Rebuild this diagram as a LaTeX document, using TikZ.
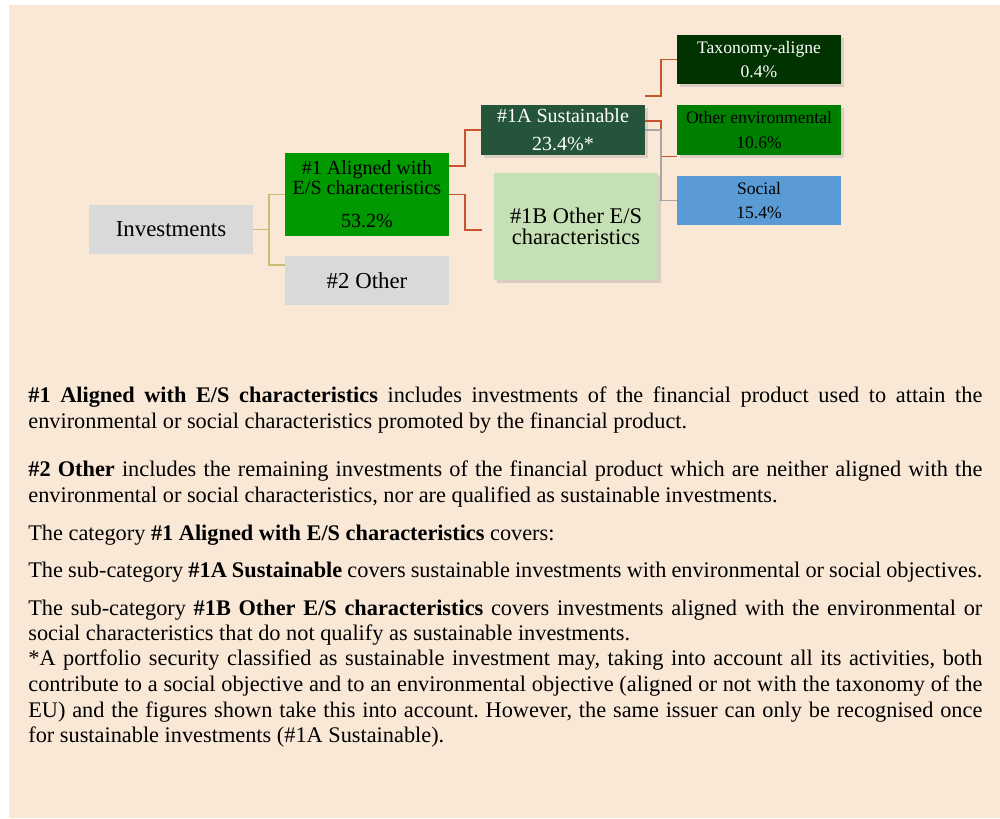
\documentclass[tikz,border=0pt]{standalone}
\usepackage{fontspec}
\setmainfont{Liberation Serif}
\usepackage{xcolor}
\usepackage{tikz}
\usetikzlibrary{shadows}
\definecolor{esgPeach}{HTML}{FAE8D7}
\definecolor{esgGray}{HTML}{D9D9D9}
\definecolor{esgGreen}{HTML}{009900}
\definecolor{esgForest}{HTML}{245439}
\definecolor{esgMint}{HTML}{C5E0B4}
\definecolor{esgNight}{HTML}{003300}
\definecolor{esgLeaf}{HTML}{008000}
\definecolor{esgSky}{HTML}{5B9BD5}
\definecolor{esgTan}{HTML}{C9BD74}
\definecolor{esgRust}{HTML}{C8532F}
\definecolor{esgSlate}{HTML}{A6A6A6}
\tikzset{
  category/.style={
    rectangle,
    inner sep=0pt,
    minimum width=3.28cm,
    minimum height=0.98cm,
    align=center,
    font=\fontsize{13}{15}\selectfont
  },
  categoryShadow/.style={
    category,
    drop shadow={shadow xshift=0.05cm,shadow yshift=-0.06cm,opacity=0.25}
  },
  leaf/.style={
    categoryShadow,
    font=\fontsize{10}{13.7}\selectfont
  },
  tanLink/.style={
    draw=esgTan,
    line width=1pt
  },
  rustLink/.style={
    draw=esgRust,
    line width=1.1pt
  },
  slateLink/.style={
    draw=esgSlate,
    line width=1pt
  },
  legend/.style={
    anchor=base west,
    inner sep=0pt,
    text width=19.08cm,
    align=justify,
    font=\fontsize{12.7}{14.6}\selectfont\frenchspacing
  }
}
\begin{document}
\begin{tikzpicture}
  \useasboundingbox (0,0) rectangle (20,-16.36);
  \fill[esgPeach] (0.18,-0.1) rectangle (20,-16.36);
  % tree of investments
  \node[category,fill=esgGray] (invest) at (3.42,-4.59) {Investments};
  \node[category,fill=esgGreen,minimum height=1.66cm,font=\fontsize{11.4}{11}\selectfont] (aligned) at (7.34,-3.89) {\#1 Aligned with\\E/S characteristics\\[8pt]53.2\%};
  \node[category,fill=esgGray] (other) at (7.34,-5.61) {\#2 Other};
  \node[categoryShadow,fill=esgForest,text=white,minimum height=1.0cm,font=\fontsize{11.4}{15.8}\selectfont] (sustain) at (11.26,-2.60) {\#1A Sustainable\\23.4\%*};
  \node[categoryShadow,fill=esgMint,minimum height=2.14cm,font=\fontsize{12.75}{12.3}\selectfont] (otherES) at (11.52,-4.53) {\#1B Other E/S\\characteristics};
  \node[leaf,fill=esgNight,text=white] (taxo) at (15.18,-1.19) {Taxonomy-aligne\\0.4\%};
  \node[leaf,fill=esgLeaf,minimum height=1.0cm] (environ) at (15.18,-2.60) {Other environmental\\10.6\%};
  \node[category,fill=esgSky,font=\fontsize{10}{13.7}\selectfont] (social) at (15.18,-4.01) {Social\\15.4\%};
  \draw[tanLink] (invest.east) -- ++(0.32,0) |- (aligned.west);
  \draw[tanLink] (invest.east) -- ++(0.32,0) |- ([yshift=0.31cm]other.west);
  \draw[rustLink] ([yshift=0.57cm]aligned.east) -- ++(0.32,0) |- (sustain.west);
  \draw[rustLink] (aligned.east) -- ++(0.32,0) |- ([xshift=-0.24cm,yshift=-0.07cm]otherES.west);
  \draw[rustLink] ([yshift=0.18cm]sustain.north east) -- ++(0.32,0) |- (taxo.west);
  \draw[rustLink] ([yshift=0.18cm]sustain.east) -- ++(0.32,0) |- ([yshift=-0.53cm]environ.west);
  \draw[slateLink] (sustain.east) -- ++(0.32,0) |- (social.west);
  % explanations
  \node[legend] (noteAligned) at (0.56,-8.054) {\textbf{\#1 Aligned with E/S characteristics} includes investments of the financial product used to attain the\linebreak environmental or social characteristics promoted by the financial product.};
  \node[legend] (noteOther) at (0.56,-9.534) {\textbf{\#2 Other} includes the remaining investments of the financial product which are neither aligned with the\linebreak environmental or social characteristics, nor are qualified as sustainable investments.};
  \node[legend] (noteCategory) at (0.56,-10.814) {The category \textbf{\#1 Aligned with E/S characteristics} covers:};
  \node[legend] (noteSustain) at (0.56,-11.546) {The sub-category \textbf{\#1A Sustainable} covers sustainable investments with environmental or social objectives.};
  \node[legend] (noteOtherES) at (0.56,-12.30) {The sub-category \textbf{\#1B Other E/S characteristics} covers investments aligned with the environmental or\linebreak social characteristics that do not qualify as sustainable investments.};
  \node[legend] (noteStar) at (0.56,-13.314) {*A portfolio security classified as sustainable investment may, taking into account all its activities, both\linebreak contribute to a social objective and to an environmental objective (aligned or not with the taxonomy of the\linebreak EU) and the figures shown take this into account. However, the same issuer can only be recognised once\linebreak for sustainable investments (\#1A Sustainable).};
\end{tikzpicture}
\end{document}
